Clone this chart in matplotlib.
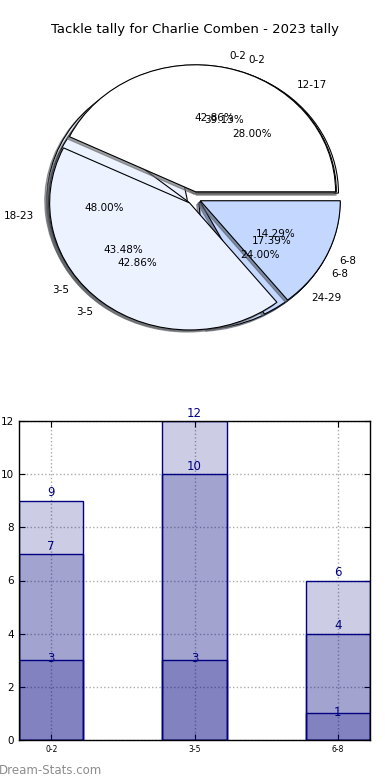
import matplotlib
matplotlib.use("Agg")
import matplotlib.pyplot as plt
import numpy as np

# ---- data ----
title = "Tackle tally for Charlie Comben - 2023 tally"
pie_a_labels = ["0-2", "3-5", "6-8"]
pie_a_values = [3, 3, 1]
pie_b_labels = ["0-2", "3-5", "6-8"]
pie_b_values = [9, 10, 4]
pie_c_labels = ["12-17", "18-23", "24-29"]
pie_c_values = [7, 12, 6]

bar_categories = ["0-2", "3-5", "6-8"]
bar_series_1 = [3, 3, 1]
bar_series_2 = [7, 10, 4]
bar_series_3 = [9, 12, 6]
y_ticks = [0, 2, 4, 6, 8, 10, 12]

pie_colors = ["#ffffff", "#ecf2ff", "#c4d8ff"]

W, H = 390, 780
fig = plt.figure(figsize=(W / 100, H / 100), dpi=100)

fig.text(0.5, 1 - 30 / H, title, ha="center", va="center", fontsize=9.5)

# ---- pie axes ----
cx, cy = 194, 198
rx, ry = 140, 127
lim = 1.3
axp = fig.add_axes([(cx - lim * rx) / W, (H - cy - lim * ry) / H,
                    2 * lim * rx / W, 2 * lim * ry / H])

pies = [(pie_a_labels, pie_a_values, 1.3),
        (pie_b_labels, pie_b_values, 1.2),
        (pie_c_labels, pie_c_values, 1.1)]
for labels, values, z in pies:
    axp.pie(values, labels=labels, colors=pie_colors, autopct="%1.2f%%",
            explode=[0.05] * len(values),
            shadow=dict(ox=-0.012, oy=-0.012, shade=0.6, alpha=0.6),
            startangle=0, counterclock=True,
            wedgeprops=dict(edgecolor="black", linewidth=0.8, zorder=z),
            textprops=dict(fontsize=7.5))
axp.set_aspect("auto")
axp.set_xlim(-lim, lim)
axp.set_ylim(-lim, lim)
axp.axis("off")

# ---- bar axes ----
axb = fig.add_axes([19 / W, 1 - 740 / H, 351 / W, 319 / H])
x = np.arange(len(bar_categories))
width = 0.45
face = (0, 0, 0.5, 0.2)
for series in [bar_series_3, bar_series_2, bar_series_1]:
    axb.bar(x, series, width=width, facecolor=face, edgecolor="navy",
            linewidth=1.0, zorder=2)
for idx, series in enumerate([bar_series_1, bar_series_2, bar_series_3]):
    for xi, v in zip(x, series):
        if idx == 0:
            axb.annotate(str(v), (xi, v), xytext=(0, 1), textcoords="offset points",
                         ha="center", va="center", fontsize=8.5, color="navy", zorder=5)
        else:
            axb.annotate(str(v), (xi, v), xytext=(0, 1), textcoords="offset points",
                         ha="center", va="bottom", fontsize=8.5, color="navy", zorder=5)

axb.set_xlim(-width / 2, len(bar_categories) - 1 + width / 2)
axb.set_ylim(0, 12)
axb.set_xticks(x)
axb.set_xticklabels(bar_categories, fontsize=5.5)
axb.set_yticks(y_ticks)
axb.tick_params(axis="y", labelsize=7.5, direction="in", right=True, length=4)
axb.tick_params(axis="x", direction="in", top=True, length=4)
axb.grid(True, linestyle=":", color="#aaaaaa", linewidth=1.0, zorder=0)
axb.set_axisbelow(True)
for s in axb.spines.values():
    s.set_color("black")
    s.set_linewidth(1.0)

fig.text(-0.003, 1 - 770 / H, "Dream-Stats.com", ha="left", va="center",
         fontsize=8.5, color="#8c8c8c")

fig.savefig("out.png", dpi=100)
